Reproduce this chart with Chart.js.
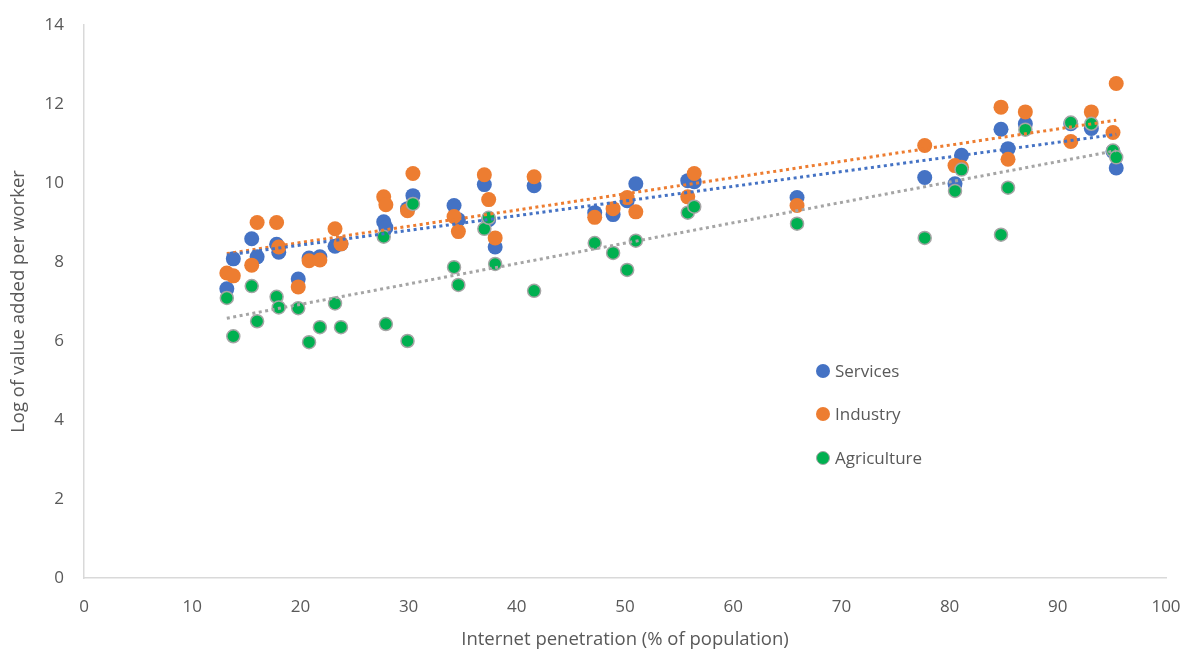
<!DOCTYPE html>
<html>
<head>
<meta charset="utf-8">
<script src="https://cdn.jsdelivr.net/npm/chart.js@4.4.0/dist/chart.umd.min.js"></script>
<style>
    body { margin: 0; background: #fff; }
    #wrap { position: relative; width: 1189px; height: 651px; }
    .legenda { position: absolute; left: 816px; font: 17px "Open Sans", sans-serif; color: #595959; }
    .legenda span { display: inline-block; width: 14px; height: 14px; border-radius: 50%; margin-right: 5px; vertical-align: -1px; box-sizing: border-box; }
</style>
</head>
<body>
<div id="wrap">
    <canvas id="grafico"></canvas>
    <div class="legenda" style="top:359px"><span style="background:#4472C4"></span>Services</div>
    <div class="legenda" style="top:402px"><span style="background:#ED7D31"></span>Industry</div>
    <div class="legenda" style="top:446px"><span style="background:#00B050;border:1.5px solid #A5A5A5"></span>Agriculture</div>
</div>
<script>
// Internet penetration (% of population), one entry per country
const internet = [13.2, 13.8, 15.5, 16.0, 17.8, 18.0, 19.8, 20.8, 21.8, 23.2, 23.75, 27.7, 27.9, 29.9, 30.4,
    34.2, 34.6, 37.0, 37.4, 38.0, 41.6, 47.2, 48.9, 50.2, 51.0, 55.8, 56.4, 65.9, 77.7, 80.5, 81.1,
    84.75, 85.4, 87.0, 91.2, 93.1, 95.1, 95.4];

// Log of value added per worker
const services = [7.32, 8.08, 8.59, 8.13, 8.45, 8.25, 7.57, 8.1, 8.13, 8.4, 8.46, 9.02, 8.87, 9.35, 9.68,
    9.43, 9.07, 9.96, 9.07, 8.38, 9.93, 9.25, 9.2, 9.55, 9.98, 10.06, 10.03, 9.63, 10.14, 9.98, 10.7,
    11.36, 10.87, 11.5, 11.5, 11.38, 10.8, 10.38];
const industry = [7.72, 7.65, 7.92, 9.0, 9.0, 8.38, 7.37, 8.03, 8.05, 8.84, 8.46, 9.65, 9.45, 9.3, 10.24,
    9.15, 8.77, 10.21, 9.58, 8.61, 10.16, 9.13, 9.35, 9.63, 9.27, 9.65, 10.24, 9.43, 10.95, 10.44, 10.4,
    11.92, 10.6, 11.8, 11.05, 11.8, 11.28, 12.52];
const agriculture = [7.09, 6.12, 7.39, 6.5, 7.12, 6.85, 6.83, 5.97, 6.35, 6.95, 6.35, 8.64, 6.43, 6.0, 9.47,
    7.87, 7.42, 8.84, 9.12, 7.95, 7.27, 8.48, 8.23, 7.8, 8.54, 9.25, 9.4, 8.97, 8.61, 9.8, 10.34,
    8.69, 9.88, 11.35, 11.53, 11.5, 10.82, 10.65];

const xTicks = [0, 10, 20, 30, 40, 50, 60, 70, 80, 90, 100];
const yTicks = [0, 2, 4, 6, 8, 10, 12, 14];

function pontos(ys) {
    return internet.map((x, i) => ({ x: x, y: ys[i] }));
}

// linha de tendência linear (mínimos quadrados)
function tendencia(ys) {
    const n = internet.length;
    let sx = 0, sy = 0, sxx = 0, sxy = 0;
    for (let i = 0; i < n; i++) {
        sx += internet[i]; sy += ys[i];
        sxx += internet[i] * internet[i]; sxy += internet[i] * ys[i];
    }
    const b = (n * sxy - sx * sy) / (n * sxx - sx * sx);
    const a = (sy - b * sx) / n;
    const x0 = Math.min(...internet), x1 = Math.max(...internet);
    return [{ x: x0, y: a + b * x0 }, { x: x1, y: a + b * x1 }];
}

function linha(ys, cor) {
    return {
        type: 'line',
        data: tendencia(ys),
        borderColor: cor,
        borderWidth: 3,
        borderDash: [3, 3.5],
        pointRadius: 0,
        fill: false,
        order: 0
    };
}

const fonte = { family: '"Open Sans", sans-serif', size: 17 };

new Chart(document.getElementById('grafico'), {
    type: 'scatter',
    data: {
        datasets: [
            linha(services, '#4472C4'),
            linha(industry, '#ED7D31'),
            linha(agriculture, '#A5A5A5'),
            {
                label: 'Agriculture',
                data: pontos(agriculture),
                backgroundColor: '#00B050',
                borderColor: '#A5A5A5',
                borderWidth: 1.5,
                pointRadius: 6.5,
                order: 1
            },
            {
                label: 'Industry',
                data: pontos(industry),
                backgroundColor: '#ED7D31',
                borderColor: '#ED7D31',
                borderWidth: 0,
                pointRadius: 7.5,
                order: 2
            },
            {
                label: 'Services',
                data: pontos(services),
                backgroundColor: '#4472C4',
                borderColor: '#4472C4',
                borderWidth: 0,
                pointRadius: 7.5,
                order: 3
            }
        ]
    },
    options: {
        responsive: true,
        maintainAspectRatio: false,
        animation: false,
        layout: { padding: { top: 25, right: 23, left: 0, bottom: 0 } },
        plugins: {
            legend: { display: false },
            tooltip: { enabled: false }
        },
        scales: {
            x: {
                type: 'linear',
                min: 0,
                max: 100,
                afterBuildTicks: (s) => { s.ticks = xTicks.map(v => ({ value: v })); },
                afterFit: (s) => { s.height = 73; s.paddingLeft = 0; s.paddingRight = 0; },
                ticks: { color: '#595959', font: fonte, padding: 19 },
                grid: { display: false, drawTicks: false },
                border: { display: true, color: '#D9D9D9', width: 1.5 },
                title: {
                    display: true,
                    text: 'Internet penetration (% of population)',
                    color: '#595959',
                    font: { family: '"Open Sans", sans-serif', size: 18.5 },
                    padding: { top: 0, bottom: 0 }
                }
            },
            y: {
                type: 'linear',
                min: 0,
                max: 14,
                afterBuildTicks: (s) => { s.ticks = yTicks.map(v => ({ value: v })); },
                afterFit: (s) => { s.width = 84; s.paddingTop = 0; s.paddingBottom = 0; },
                ticks: { color: '#595959', font: fonte, padding: 20 },
                grid: { display: false, drawTicks: false },
                border: { display: true, color: '#D9D9D9', width: 1.5 },
                title: {
                    display: true,
                    text: 'Log of value added per worker',
                    color: '#595959',
                    font: { family: '"Open Sans", sans-serif', size: 18.5 },
                    padding: { top: 8, bottom: 0 }
                }
            }
        }
    }
});
</script>
</body>
</html>
